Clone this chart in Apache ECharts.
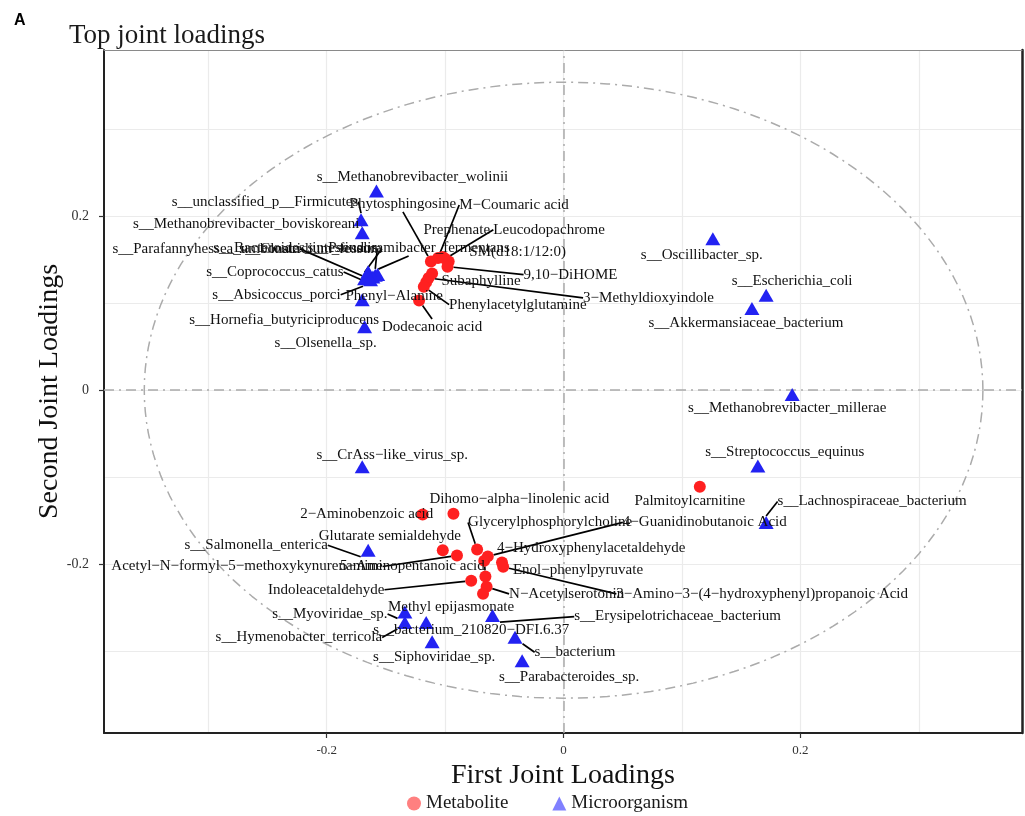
<!DOCTYPE html>
<html>
<head>
<meta charset="utf-8">
<script src="https://cdn.jsdelivr.net/npm/echarts@6/dist/echarts.min.js"></script>
<style>
  html, body { margin: 0; padding: 0; background: #fff; }
  #chart { width: 1025px; height: 816px; }
</style>
</head>
<body>
<div id="chart"></div>
<script>
// ---------------- data ----------------
const metaboliteNames = ['Phytosphingosine', 'M\u2212Coumaric acid', 'Prephenate', 'Leucodopachrome', 'SM(d18:1/12:0)',
  '9,10\u2212DiHOME', 'Subaphylline', '3\u2212Methyldioxyindole', 'Phenyl\u2212Alanine', 'Phenylacetylglutamine',
  'Dodecanoic acid', 'Palmitoylcarnitine', '2\u2212Aminobenzoic acid', 'Dihomo\u2212alpha\u2212linolenic acid',
  'Glycerylphosphorylcholine', '4\u2212Guanidinobutanoic Acid', '4\u2212Hydroxyphenylacetaldehyde',
  'Enol\u2212phenylpyruvate', '3\u2212Amino\u22123\u2212(4\u2212hydroxyphenyl)propanoic Acid', 'Glutarate semialdehyde',
  'Acetyl\u2212N\u2212formyl\u22125\u2212methoxykynurenamine', '5\u2212Aminopentanoic acid', 'Indoleacetaldehyde',
  'N\u2212Acetylserotonin', 'Methyl epijasmonate'];
const metaboliteX = [-0.112, -0.106, -0.102, -0.100, -0.097, -0.098, -0.111, -0.114, -0.116, -0.118, -0.122,
  0.115, -0.119, -0.093, -0.073, -0.064, -0.067, -0.052, -0.051, -0.102, -0.090, -0.066, -0.078, -0.065, -0.068];
const metaboliteY = [0.148, 0.152, 0.153, 0.151, 0.148, 0.142, 0.134, 0.129, 0.124, 0.119, 0.103,
  -0.111, -0.143, -0.142, -0.183, -0.191, -0.196, -0.198, -0.203, -0.184, -0.190, -0.214, -0.219, -0.226, -0.234];

const microbeNames = ['s__Methanobrevibacter_wolinii', 's__unclassified_p__Firmicutes', 's__Methanobrevibacter_boviskoreani',
  's__Parafannyhessea_umbonata', 's__Bacteroides_intestinalis', 's__Clostridium_fessum', 's__Pseudoramibacter_fermentans',
  's__Coprococcus_catus', 's__Absicoccus_porci', 's__Hornefia_butyriciproducens', 's__Olsenella_sp.',
  's__Oscillibacter_sp.', 's__Escherichia_coli', 's__Akkermansiaceae_bacterium', 's__Methanobrevibacter_millerae',
  's__Streptococcus_equinus', 's__Lachnospiraceae_bacterium', 's__CrAss\u2212like_virus_sp.', 's__Salmonella_enterica',
  's__Myoviridae_sp.', 's__Hymenobacter_terricola', 's__bacterium_210820\u2212DFI.6.37', 's__Siphoviridae_sp.',
  's__Erysipelotrichaceae_bacterium', 's__bacterium', 's__Parabacteroides_sp.'];
const microbeX = [-0.158, -0.171, -0.170, -0.165, -0.159, -0.168, -0.157, -0.161, -0.163, -0.170, -0.168,
  0.126, 0.171, 0.159, 0.193, 0.164, 0.171, -0.170, -0.165, -0.134, -0.134, -0.116, -0.111, -0.060, -0.041, -0.035];
const microbeY = [0.229, 0.196, 0.181, 0.136, 0.132, 0.128, 0.133, 0.130, 0.127, 0.104, 0.073,
  0.174, 0.109, 0.094, -0.005, -0.087, -0.152, -0.088, -0.184, -0.255, -0.267, -0.267, -0.289, -0.259, -0.284, -0.311];

const xTicks = [-0.2, 0, 0.2];
const yTicks = [-0.2, 0, 0.2];
const gridValues = [-0.3, -0.2, -0.1, 0, 0.1, 0.2, 0.3];
const circleRadius = 0.354;

// ---------------- label layout (pixel offsets of label centre from its point) ----------------
const metaboliteLabelOffset = [[-28,-57],[76,-53],[14,-27],[104,-29],[69,-9],[123,8],[49,7],[220,20],[-32,14],[94,18],
  [13,26],[-10,14],[-56,-1],[66,-15],[73,-27],[217,-34],[107,-13],[76,8],[259,27],[-53,-14],[-210,11],[-73,-10],
  [-145,9],[80,7],[-32,13]];
const metaboliteLeader = [1,1,0,1,0,1,0,1,0,1,1,0,0,0,1,1,0,0,1,0,1,1,1,1,0];
const microbeLabelOffset = [[36,-14],[-96,-18],[-116,-9],[-162,-23],[-80,-27],[-54,-30],[31,-26],[-98,-5],[-94,15],
  [-78,20],[-39,16],[-11,16],[26,-14],[-6,15],[-5,14],[27,-14],[106,-21],[30,-12],[-112,-5],[-75,2],[-106,15],
  [45,8],[2,15],[185,1],[60,15],[47,16]];
const microbeLeader = [0,1,1,1,1,1,1,1,1,0,0,0,0,0,0,0,1,0,1,1,1,0,0,1,1,0];

// ---------------- build ----------------
const SERIF = 'Liberation Serif';
function items(names, xs, ys, leader) {
  return names.map((n, i) => ({ name: n, value: [xs[i], ys[i]], labelLine: { show: !!leader[i] } }));
}
const circle = [];
for (let a = 0; a <= 360; a += 2) {
  const t = a * Math.PI / 180;
  circle.push([circleRadius * Math.cos(t), circleRadius * Math.sin(t)]);
}
const refDash = { color: '#ABABAB', width: 1.5, type: [10, 5, 2, 5] };
const gridStyle = { color: '#EBEBEB', width: 1.2, type: 'solid' };

const X_MIN = -0.388, X_MAX = 0.387, Y_MIN = -0.394, Y_MAX = 0.391;

const labelCommon = {
  show: true, position: 'inside', formatter: '{b}', color: '#111',
  fontFamily: SERIF, fontSize: 15
};
const labelLineCommon = { show: false, lineStyle: { color: '#000', width: 1.7 } };

const chart = echarts.init(document.getElementById('chart'), null, { renderer: 'canvas' });
chart.setOption({
  animation: false,
  backgroundColor: '#fff',
  title: [
    { text: 'A', left: 9, top: 8, textStyle: { fontFamily: 'Liberation Sans', fontWeight: 'bold', fontSize: 16, color: '#000' } },
    { text: 'Top joint loadings', left: 64, top: 17, textStyle: { fontFamily: SERIF, fontWeight: 'normal', fontSize: 27, color: '#1a1a1a' } }
  ],
  legend: {
    left: 402, top: 789, itemWidth: 14, itemHeight: 14, itemGap: 44, selectedMode: false,
    textStyle: { fontFamily: SERIF, fontSize: 19, color: '#1a1a1a' },
    data: [
      { name: 'Metabolite', icon: 'circle', itemStyle: { color: '#FF8080' } },
      { name: 'Microorganism', icon: 'triangle', itemStyle: { color: '#8080FF' } }
    ]
  },
  grid: { left: 104, right: 3, top: 50, bottom: 83, containLabel: false },
  xAxis: [
    {
      type: 'value', min: X_MIN, max: X_MAX, position: 'bottom',
      name: 'First Joint Loadings', nameLocation: 'middle', nameGap: 28,
      nameTextStyle: { fontFamily: SERIF, fontSize: 28, color: '#111' },
      axisLine: { show: true, onZero: false, lineStyle: { color: '#222', width: 2 } },
      axisTick: { show: true, customValues: xTicks, length: 5, lineStyle: { color: '#333', width: 1.2 } },
      axisLabel: { customValues: xTicks, margin: 11, fontFamily: SERIF, fontSize: 13, color: '#333',
        formatter: v => (Math.abs(v) < 1e-9 ? '0' : v.toFixed(1)) },
      splitLine: { show: false }
    },
    {
      type: 'value', min: X_MIN, max: X_MAX, position: 'top',
      axisLine: { show: true, onZero: false, lineStyle: { color: '#8a8a8a', width: 1 } },
      axisTick: { show: false }, axisLabel: { show: false }, splitLine: { show: false }
    }
  ],
  yAxis: [
    {
      type: 'value', min: Y_MIN, max: Y_MAX, position: 'left',
      name: 'Second Joint Loadings', nameLocation: 'middle', nameGap: 40, nameMoveOverlap: false,
      nameTextStyle: { fontFamily: SERIF, fontSize: 28, color: '#111' },
      axisLine: { show: true, onZero: false, lineStyle: { color: '#222', width: 2 } },
      axisTick: { show: true, customValues: yTicks, length: 5, lineStyle: { color: '#333', width: 1.2 } },
      axisLabel: { customValues: yTicks, margin: 15, fontFamily: SERIF, fontSize: 14, color: '#333',
        formatter: v => (Math.abs(v) < 1e-9 ? '0' : v.toFixed(1)) },
      splitLine: { show: false }
    },
    {
      type: 'value', min: Y_MIN, max: Y_MAX, position: 'right',
      axisLine: { show: true, onZero: false, lineStyle: { color: '#222', width: 2.5 } },
      axisTick: { show: false }, axisLabel: { show: false }, splitLine: { show: false }
    }
  ],
  series: [
    {
      name: 'gridlines', type: 'line', data: [], z: 0, silent: true,
      markLine: {
        z: 0, silent: true, animation: false, symbol: ['none', 'none'], label: { show: false }, lineStyle: gridStyle,
        emphasis: { disabled: true },
        data: gridValues.map(v => ({ xAxis: v })).concat(gridValues.map(v => ({ yAxis: v })))
      }
    },
    {
      name: 'reference', type: 'line', data: circle, z: 1, silent: true,
      showSymbol: false, symbol: 'none', smooth: false,
      lineStyle: refDash,
      markLine: {
        z: 1, silent: true, animation: false, symbol: ['none', 'none'], label: { show: false }, lineStyle: refDash,
        emphasis: { disabled: true },
        data: [{ xAxis: 0 }, { yAxis: 0 }]
      }
    },
    {
      name: 'Metabolite', type: 'scatter', z: 3,
      symbol: 'circle', symbolSize: 12,
      itemStyle: { color: '#FF2020', opacity: 1 },
      data: items(metaboliteNames, metaboliteX, metaboliteY, metaboliteLeader),
      label: labelCommon,
      labelLine: labelLineCommon,
      labelLayout: p => ({ dx: metaboliteLabelOffset[p.dataIndex][0], dy: metaboliteLabelOffset[p.dataIndex][1] })
    },
    {
      name: 'Microorganism', type: 'scatter', z: 3,
      symbol: 'triangle', symbolSize: [15, 13],
      itemStyle: { color: '#2222F2', opacity: 1 },
      data: items(microbeNames, microbeX, microbeY, microbeLeader),
      label: labelCommon,
      labelLine: labelLineCommon,
      labelLayout: p => ({ dx: microbeLabelOffset[p.dataIndex][0], dy: microbeLabelOffset[p.dataIndex][1] })
    }
  ]
});
</script>
</body>
</html>
